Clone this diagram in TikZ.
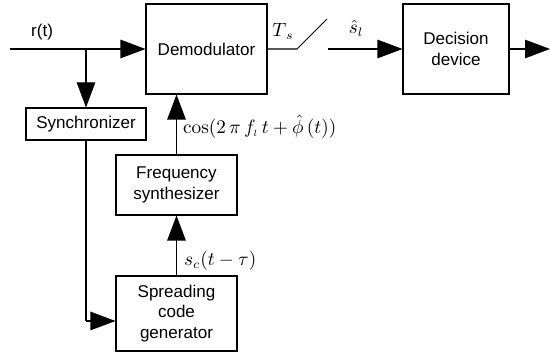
\documentclass[tikz,border=0pt]{standalone}
\usepackage{amsmath}
\usepackage[no-math]{fontspec}
\setmainfont{Liberation Sans}
\usetikzlibrary{arrows.meta, positioning, calc}

\begin{document}
\begin{tikzpicture}[
  box/.style={draw, rectangle, align=center, inner sep=2pt,
              font=\fontsize{9.7}{11.6}\selectfont, line width=0.6pt},
  lbl/.style={font=\fontsize{10.5}{12}\selectfont, inner sep=1pt},
  sig/.style={line width=0.6pt},
  arr/.style={-{Triangle[length=5mm,width=3.7mm]}, line width=0.6pt},
]
\useasboundingbox (0,0) rectangle (11,7.08);

%% ---- Boxes ----
\node[box, minimum width=2.42cm, minimum height=1.8cm]  (DM) at (4.13, 6.1) {Demodulator};
\node[box, minimum width=2.12cm, minimum height=1.8cm]  (DD) at (9.12, 6.1) {Decision\\device};
\node[box, minimum width=2.4cm,  minimum height=0.64cm] (SY) at (1.72, 4.6) {Synchronizer};
\node[box, minimum width=2.42cm, minimum height=1.2cm]  (FS) at (3.53, 3.38) {Frequency\\synthesizer};
\node[box, minimum width=2.42cm, minimum height=1.5cm]  (SC) at (3.53, 0.81) {Spreading\\code\\generator};

%% ---- Input and branch to synchronizer ----
\coordinate (in)  at (0.2, 6.1);
\coordinate (br)  at (SY.north |- in);
\draw[arr] (in) -- (DM.west);
\draw[arr] (br) -- (SY.north);
\node[above=0.06cm of in, anchor=south west, font=\fontsize{9.7}{11.6}\selectfont, xshift=0.3cm] (rt) {r(t)};

%% ---- Synchronizer -> code generator ----
\coordinate (dn) at (1.72, 0.66);
\draw[sig] (SY.south) -- (dn);
\draw[arr] (dn) -- (dn -| SC.west);

%% ---- Loop upwards ----
\draw[arr] (SC.north) -- (FS.north |- FS.south);
\draw[arr] (FS.north) -- (DM.south -| FS.north);
\node[lbl, anchor=west] (cs) at (3.62, 4.55) {$\cos(2\,\pi\, f_{\scriptscriptstyle l}\, t+\hat{\phi}\,(t))$};
\node[lbl, anchor=west] (st) at (3.64, 1.86) {$s_c(t-\tau)$};

%% ---- Sampler switch ----
\coordinate (sw1) at (5.94, 6.1);
\coordinate (sw2) at (6.54, 6.7);
\coordinate (sw3) at (6.56, 6.1);
\draw[sig] (DM.east) -- (sw1) -- (sw2);
\draw[arr] (sw3) -- (DD.west);
\node[lbl] (ts) at (5.66, 6.46) {$T_{\,s}$};
\node[lbl] (sl) at (7.12, 6.52) {$\hat{s}_l$};

%% ---- Output ----
\coordinate (out) at (11.0, 6.1);
\draw[arr] (DD.east) -- (out);
\node[lbl] (so) at (11.12, 6.6) {$\hat{s}$};
\end{tikzpicture}
\end{document}
